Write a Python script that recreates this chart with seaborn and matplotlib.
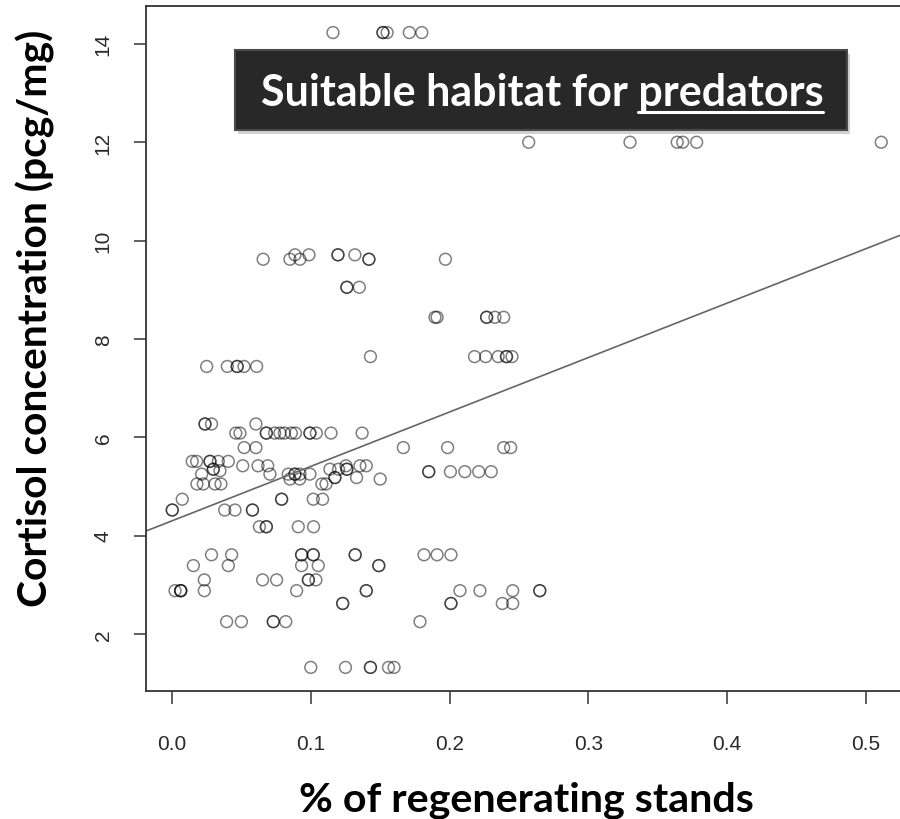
import matplotlib
matplotlib.use("Agg")
import matplotlib.pyplot as plt
from matplotlib.patches import Rectangle
import seaborn as sns
import pandas as pd

# ---- data ----
x_regen = [
    0.116, 0.152, 0.152, 0.155, 0.171, 0.180,
    0.257, 0.330, 0.364, 0.368, 0.378, 0.511,
    0.0886, 0.0987, 0.1196, 0.1196, 0.1318,
    0.0657, 0.085, 0.0922, 0.1419, 0.1419, 0.197,
    0.126, 0.126, 0.135,
    0.1895, 0.191, 0.2267, 0.2267, 0.2327, 0.239,
    0.143, 0.218, 0.226, 0.235, 0.241, 0.241, 0.245,
    0.025, 0.0399, 0.047, 0.047, 0.0519, 0.061,
    0.0238, 0.0238, 0.0285, 0.0605,
    0.046, 0.049, 0.068, 0.068, 0.074, 0.0778, 0.081, 0.086, 0.089, 0.0994, 0.0994, 0.104, 0.1146, 0.137,
    0.052, 0.0605, 0.1667, 0.1986, 0.239, 0.244,
    0.0146, 0.0178, 0.0274, 0.0274, 0.0334, 0.0406,
    0.051, 0.062, 0.069, 0.1254, 0.1354, 0.140,
    0.0298, 0.0298, 0.1138, 0.120, 0.126, 0.126,
    0.0346,
    0.0214, 0.0706, 0.0838, 0.0886, 0.0886, 0.0922, 0.0994,
    0.185, 0.185, 0.2006, 0.211, 0.221, 0.230,
    0.1174, 0.1174, 0.133,
    0.085, 0.092, 0.150,
    0.018, 0.0226, 0.031, 0.0353, 0.108, 0.111,
    0.0074, 0.079, 0.079, 0.1018, 0.1085,
    0.0002, 0.0002, 0.038, 0.0454, 0.058, 0.058,
    0.063, 0.068, 0.068, 0.091, 0.102,
    0.0285, 0.043, 0.0934, 0.0934, 0.1018, 0.1018, 0.132, 0.132, 0.1816, 0.191, 0.201,
    0.0154, 0.0406, 0.0934, 0.1054, 0.149, 0.149,
    0.0233, 0.0653, 0.0754, 0.0983, 0.0983, 0.1037,
    0.0022, 0.0063, 0.0063, 0.0063, 0.0233, 0.0898, 0.140, 0.140, 0.2075, 0.2219, 0.2455, 0.265, 0.265,
    0.123, 0.123, 0.201, 0.201, 0.238, 0.2455,
    0.0394, 0.050, 0.073, 0.073, 0.082, 0.1787,
    0.100, 0.125, 0.143, 0.143, 0.156, 0.160,
]
y_cortisol = [
    14.23, 14.23, 14.23, 14.23, 14.23, 14.23,
    12.0, 12.0, 12.0, 12.0, 12.0, 12.0,
    9.71, 9.71, 9.71, 9.71, 9.71,
    9.62, 9.62, 9.62, 9.62, 9.62, 9.62,
    9.05, 9.05, 9.05,
    8.44, 8.44, 8.44, 8.44, 8.44, 8.44,
    7.64, 7.64, 7.64, 7.64, 7.64, 7.64, 7.64,
    7.44, 7.44, 7.44, 7.44, 7.44, 7.44,
    6.27, 6.27, 6.27, 6.27,
    6.085, 6.085, 6.085, 6.085, 6.085, 6.085, 6.085, 6.085, 6.085, 6.085, 6.085, 6.085, 6.085, 6.085,
    5.79, 5.79, 5.79, 5.79, 5.79, 5.79,
    5.51, 5.51, 5.51, 5.51, 5.51, 5.51,
    5.42, 5.42, 5.42, 5.42, 5.42, 5.42,
    5.35, 5.35, 5.35, 5.35, 5.35, 5.35,
    5.32,
    5.25, 5.25, 5.25, 5.25, 5.25, 5.25, 5.25,
    5.30, 5.30, 5.30, 5.30, 5.30, 5.30,
    5.18, 5.18, 5.18,
    5.15, 5.15, 5.15,
    5.05, 5.05, 5.05, 5.05, 5.05, 5.05,
    4.74, 4.74, 4.74, 4.74, 4.74,
    4.52, 4.52, 4.52, 4.52, 4.52, 4.52,
    4.18, 4.18, 4.18, 4.18, 4.18,
    3.61, 3.61, 3.61, 3.61, 3.61, 3.61, 3.61, 3.61, 3.61, 3.61, 3.61,
    3.39, 3.39, 3.39, 3.39, 3.39, 3.39,
    3.10, 3.10, 3.10, 3.10, 3.10, 3.10,
    2.88, 2.88, 2.88, 2.88, 2.88, 2.88, 2.88, 2.88, 2.88, 2.88, 2.88, 2.88, 2.88,
    2.62, 2.62, 2.62, 2.62, 2.62, 2.62,
    2.25, 2.25, 2.25, 2.25, 2.25, 2.25,
    1.32, 1.32, 1.32, 1.32, 1.32, 1.32,
]
fit_intercept = 4.30
fit_slope = 11.07
x_ticks = [0.0, 0.1, 0.2, 0.3, 0.4, 0.5]
x_tick_labels = ["0.0", "0.1", "0.2", "0.3", "0.4", "0.5"]
y_ticks = [2, 4, 6, 8, 10, 12, 14]
y_tick_labels = ["2", "4", "6", "8", "10", "12", "14"]
title_main = "Suitable habitat for "
title_under = "predators"
x_label = "% of regenerating stands"
y_label = "Cortisol concentration (pcg/mg)"

df = pd.DataFrame({"regen": x_regen, "cortisol": y_cortisol})

sns.set_theme(style="white")
plt.rcParams["font.family"] = ["Lato", "DejaVu Sans"]

W, H = 900, 820
fig = plt.figure(figsize=(9, 8.2), dpi=100)
fig.patch.set_facecolor("white")

def fx(px):
    return px / W

def fy(py):
    return 1 - py / H

ax = fig.add_axes([fx(146), fy(692), fx(904) - fx(146), fy(7) - fy(692)])

sns.scatterplot(data=df, x="regen", y="cortisol", ax=ax, marker="o",
                facecolors="none", edgecolor="black", alpha=0.5,
                s=72, linewidth=1.1, legend=False)

ax.axline((0, fit_intercept), slope=fit_slope, color="#666666", lw=1.2, zorder=1)

ax.set_xlim(-0.0187, 0.5274)
ax.set_ylim(0.84, 14.77)

for s in ax.spines.values():
    s.set_color("#333333")
    s.set_linewidth(1.3)
    s.set_visible(True)

tick_font = ["Liberation Sans Narrow", "Liberation Sans", "DejaVu Sans"]
ax.set_xticks(x_ticks)
ax.set_xticklabels(x_tick_labels, fontfamily=tick_font, fontsize=15, color="#2a2a2a")
ax.set_yticks(y_ticks)
ax.set_yticklabels(y_tick_labels, fontfamily=tick_font, fontsize=15, color="#2a2a2a",
                   rotation=90, va="center")
ax.tick_params(axis="x", direction="out", length=9, width=1.2, color="#444444", pad=22, bottom=True)
ax.tick_params(axis="y", direction="out", length=9, width=1.2, color="#444444", pad=15, left=True)
ax.set_xlabel("")
ax.set_ylabel("")

fig.text(fx(526), fy(800), x_label, ha="center", va="center",
         fontsize=29.7, fontweight="bold", color="black")
fig.text(fx(35), fy(318), y_label, ha="center", va="center", rotation=90,
         fontsize=29.3, fontweight="bold", color="black")

# title box
shadow = Rectangle((fx(238), fy(135)), fx(847) - fx(235), fy(51) - fy(131),
                   transform=fig.transFigure, facecolor="#999999", alpha=0.45,
                   edgecolor="none", zorder=5)
box = Rectangle((fx(235), fy(131)), fx(847) - fx(235), fy(51) - fy(131),
                transform=fig.transFigure, facecolor="#282828",
                edgecolor="#4a4a4a", linewidth=1.5, zorder=6)
fig.add_artist(shadow)
fig.add_artist(box)

title_size = 31
full_title = title_main + title_under
t = fig.text(fx(542), fy(106), full_title, ha="center", va="baseline",
             fontsize=title_size, fontweight="bold", color="white", zorder=7)
fig.canvas.draw()
r = fig.canvas.get_renderer()
bb = t.get_window_extent(r)
tmp = fig.text(0, 0, title_under, fontsize=title_size, fontweight="bold")
wb = tmp.get_window_extent(r)
tmp.remove()
x1 = bb.x1 / W
x0 = (bb.x1 - wb.width) / W
fig.add_artist(plt.Line2D([x0, x1], [fy(113), fy(113)], transform=fig.transFigure,
                          color="white", lw=2.2, zorder=7))

fig.savefig("out.png", dpi=100)
